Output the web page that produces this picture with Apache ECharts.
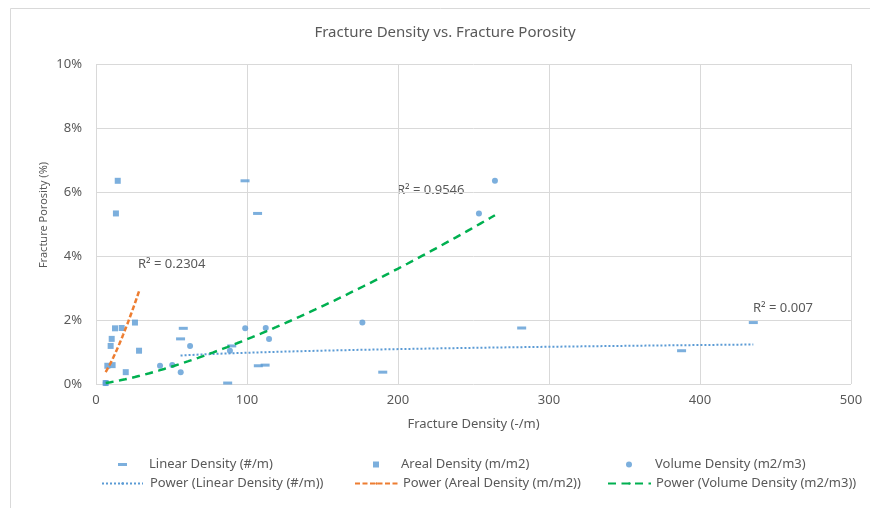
<!DOCTYPE html>
<html>
<head>
<meta charset="utf-8">
<script src="https://cdn.jsdelivr.net/npm/echarts@6/dist/echarts.min.js"></script>
<style>html,body{margin:0;padding:0;background:#fff}#c{width:870px;height:508px}</style>
</head>
<body>
<div id="c"></div>
<script>
// Fracture porosity (%) for each sample
const porosity = [6.35, 5.33, 1.92, 1.74, 1.75, 1.41, 1.19, 1.04, 0.57, 0.59, 0.37, 0.03];
// Densities for each sample
const linearDensity = [98.7, 107.0, 435.3, 57.8, 281.9, 56.0, 89.9, 387.8, 107.5, 112.0, 189.9, 87.2];
const arealDensity  = [14.4, 13.2, 25.8, 12.6, 17.0, 10.4, 9.7, 28.5, 7.5, 11.0, 19.7, 6.4];
const volumeDensity = [264.2, 253.6, 176.4, 98.8, 112.4, 114.6, 62.3, 88.7, 42.4, 50.5, 56.1, 6.4];
const seriesNames = ['Linear Density (#/m)', 'Areal Density (m/m2)', 'Volume Density (m2/m3)'];
const trendNames = ['Power (Linear Density (#/m))', 'Power (Areal Density (m/m2))', 'Power (Volume Density (m2/m3))'];
const r2Labels = ['R² = 0.007', 'R² = 0.2304', 'R² = 0.9546'];
const xTicks = [0, 100, 200, 300, 400, 500];
const yTicks = [0, 2, 4, 6, 8, 10];

const FONT = 'Noto Sans';
const TXT = '#595959';
const BLUE = '#5b9bd5';

function pairs(xs) { return xs.map((x, i) => [x, porosity[i]]); }

// Power trendline (least squares in log-log space, like a spreadsheet power trendline)
function powerTrend(xs) {
  const n = xs.length;
  const lx = xs.map(Math.log), ly = porosity.map(Math.log);
  const mx = lx.reduce((s, v) => s + v, 0) / n, my = ly.reduce((s, v) => s + v, 0) / n;
  let sxy = 0, sxx = 0;
  for (let i = 0; i < n; i++) { sxy += (lx[i] - mx) * (ly[i] - my); sxx += (lx[i] - mx) * (lx[i] - mx); }
  const b = sxy / sxx, a = Math.exp(my - b * mx);
  const x0 = Math.min(...xs), x1 = Math.max(...xs);
  const pts = [];
  const steps = 80;
  for (let k = 0; k <= steps; k++) {
    const x = x0 + (x1 - x0) * k / steps;
    pts.push([x, a * Math.pow(x, b)]);
  }
  return pts;
}

const chart = echarts.init(document.getElementById('c'), null, { renderer: 'canvas' });

const legendBase = { orient: 'horizontal', padding: 0, itemGap: 0, selectedMode: false,
  textStyle: { color: TXT, fontSize: 13, fontFamily: FONT } };

chart.setOption({
  animation: false,
  textStyle: { fontFamily: FONT },
  grid: { left: 96, right: 19, top: 64, bottom: 124, containLabel: false },
  xAxis: {
    type: 'value', min: xTicks[0], max: xTicks[xTicks.length - 1], interval: 100,
    name: 'Fracture Density (-/m)', nameLocation: 'middle', nameGap: 34,
    nameTextStyle: { color: TXT, fontSize: 13, fontFamily: FONT },
    axisLine: { show: false }, axisTick: { show: false },
    axisLabel: { color: TXT, fontSize: 13, margin: 10, fontFamily: FONT },
    splitLine: { show: true, lineStyle: { color: '#d9d9d9', width: 1 } }
  },
  yAxis: {
    type: 'value', min: yTicks[0], max: yTicks[yTicks.length - 1], interval: 2,
    axisLine: { show: false }, axisTick: { show: false },
    axisLabel: { color: TXT, fontSize: 13, margin: 14, formatter: '{value}%', fontFamily: FONT },
    splitLine: { show: true, lineStyle: { color: '#d9d9d9', width: 1 } }
  },
  legend: [
    Object.assign({}, legendBase, { left: 118, top: 458, itemWidth: 9, itemHeight: 3,
      data: [{ name: seriesNames[0], icon: 'rect' }], textStyle: Object.assign({}, legendBase.textStyle, { padding: [0, 0, 0, 17] }) }),
    Object.assign({}, legendBase, { left: 373, top: 458, itemWidth: 6, itemHeight: 6,
      data: [{ name: seriesNames[1], icon: 'rect' }], textStyle: Object.assign({}, legendBase.textStyle, { padding: [0, 0, 0, 17] }) }),
    Object.assign({}, legendBase, { left: 626, top: 458, itemWidth: 6, itemHeight: 6,
      data: [{ name: seriesNames[2], icon: 'circle' }], textStyle: Object.assign({}, legendBase.textStyle, { padding: [0, 0, 0, 18] }) }),
    Object.assign({}, legendBase, { left: 101, top: 477, itemWidth: 41, itemHeight: 3,
      data: [trendNames[0]], textStyle: Object.assign({}, legendBase.textStyle, { padding: [0, 0, 0, 2] }) }),
    Object.assign({}, legendBase, { left: 354, top: 477, itemWidth: 43, itemHeight: 3,
      data: [trendNames[1]] }),
    Object.assign({}, legendBase, { left: 607, top: 477, itemWidth: 43, itemHeight: 3,
      data: [trendNames[2]] })
  ],
  graphic: [
    { type: 'rect', z: -10, silent: true, shape: { x: 10.5, y: 8.5, width: 900, height: 600 },
      style: { fill: 'none', stroke: '#d9d9d9', lineWidth: 1 } },
    { type: 'text', x: 445, y: 33, style: { text: 'Fracture Density vs. Fracture Porosity', fill: TXT,
      fontSize: 15, fontFamily: FONT, align: 'center', verticalAlign: 'middle' } },
    { type: 'text', x: 44, y: 215, rotation: Math.PI / 2, style: { text: 'Fracture Porosity (%)', fill: TXT,
      fontSize: 11, fontFamily: FONT, align: 'center', verticalAlign: 'middle' } },
    { type: 'text', x: 753, y: 308, style: { text: r2Labels[0], fill: TXT, fontSize: 13, fontFamily: FONT, align: 'left', verticalAlign: 'middle' } },
    { type: 'text', x: 138, y: 264, style: { text: r2Labels[1], fill: TXT, fontSize: 13, fontFamily: FONT, align: 'left', verticalAlign: 'middle' } },
    { type: 'text', x: 397, y: 190, style: { text: r2Labels[2], fill: TXT, fontSize: 13, fontFamily: FONT, align: 'left', verticalAlign: 'middle' } }
  ],
  series: [
    { name: seriesNames[0], type: 'scatter', symbol: 'rect', symbolSize: [9, 3], data: pairs(linearDensity),
      itemStyle: { color: BLUE }, z: 3 },
    { name: seriesNames[1], type: 'scatter', symbol: 'rect', symbolSize: 6, data: pairs(arealDensity),
      itemStyle: { color: BLUE }, z: 3 },
    { name: seriesNames[2], type: 'scatter', symbol: 'circle', symbolSize: 6, data: pairs(volumeDensity),
      itemStyle: { color: BLUE }, z: 3 },
    { name: trendNames[0], type: 'line', showSymbol: false, symbol: 'none', data: powerTrend(linearDensity),
      lineStyle: { color: BLUE, width: 2, type: [2, 2] }, itemStyle: { color: BLUE }, z: 4 },
    { name: trendNames[1], type: 'line', showSymbol: false, symbol: 'none', data: powerTrend(arealDensity),
      lineStyle: { color: '#ed7d31', width: 2.5, type: [5, 2.5] }, itemStyle: { color: '#ed7d31' }, z: 4 },
    { name: trendNames[2], type: 'line', showSymbol: false, symbol: 'none', data: powerTrend(volumeDensity),
      lineStyle: { color: '#00b050', width: 2.5, type: [8, 5.5] }, itemStyle: { color: '#00b050' }, z: 4 }
  ]
});
</script>
</body>
</html>
